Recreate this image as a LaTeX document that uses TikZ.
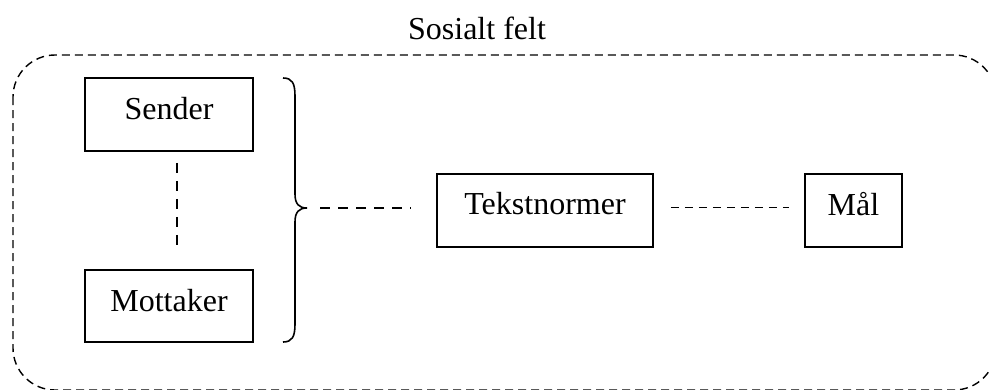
\documentclass[tikz,border=0pt]{standalone}
\usepackage{fontspec}
\setmainfont{Liberation Serif}
\begin{document}
\begin{tikzpicture}[x=1pt,y=-1pt,
  txt/.style={font=\fontsize{32}{38}\selectfont},
  box/.style={draw,line width=1.6pt,inner sep=0pt,txt},
  dashline/.style={line width=1.5pt,dash pattern=on 10pt off 8pt},
  finedash/.style={line width=1.5pt,dash pattern=on 8pt off 6pt},
  ]
\useasboundingbox (0,0) rectangle (989,389);
% social field frame
\draw[line width=1.4pt,dash pattern=on 8pt off 5pt,rounded corners=42pt] (13,55) rectangle (996,390);
\node[txt,anchor=base] (title) at (477,39) {Sosialt felt};
% boxes
\node[box,minimum width=168pt,minimum height=73pt,text depth=12pt] (sender) at (169,114.5) {Sender};
\node[box,minimum width=168pt,minimum height=72pt,text depth=12pt] (mottaker) at (169,306) {Mottaker};
\node[box,minimum width=216pt,minimum height=73pt,text depth=14pt] (tekst) at (545,210.5) {Tekstnormer};
\node[box,minimum width=97pt,minimum height=73pt,text depth=14pt] (mal) at (853.5,210.5) {Mål};
% brace
\coordinate (btop) at (283,78);
\coordinate (bbot) at (283,342);
\coordinate (btip) at (307,208);
\draw[line width=1.6pt] (btop) .. controls (292,78) and (295,83) .. (295,96) -- (295,194)
  .. controls (295,204) and (299,208) .. (btip)
  .. controls (299,208) and (295,212) .. (295,222) -- (295,324)
  .. controls (295,337) and (292,342) .. (bbot);
% connectors
\draw[dashline,shorten <=11pt,shorten >=18pt] ([xshift=8pt]sender.south) -- ([xshift=8pt]mottaker.north);
\draw[dashline,shorten <=13pt,shorten >=25pt] (btip) -- (btip -| tekst.west);
\draw[finedash,shorten <=17pt,shorten >=15pt] ([yshift=3pt]tekst.east) -- ([yshift=3pt]mal.west);
\end{tikzpicture}
\end{document}
